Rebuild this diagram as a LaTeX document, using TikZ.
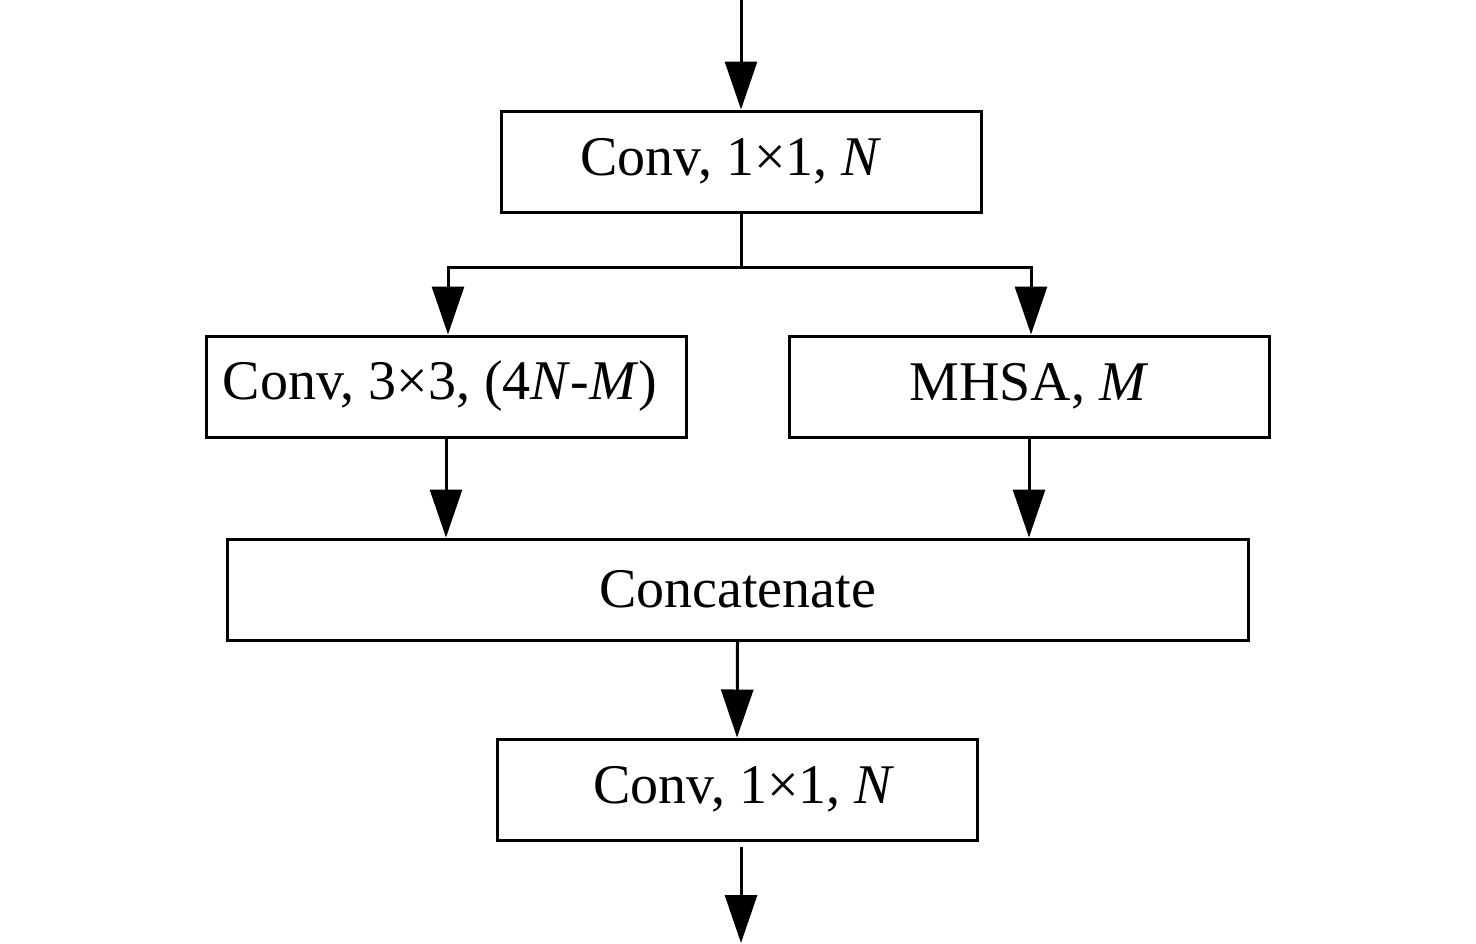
\documentclass[tikz,border=0pt]{standalone}
\usepackage{fontspec}
\setmainfont{Liberation Serif}
\usetikzlibrary{arrows.meta}
\begin{document}
\begin{tikzpicture}[x=0.5pt,y=-0.5pt,
  blk/.style={draw,line width=1.5pt,minimum width=240pt,minimum height=50.5pt,inner sep=0pt,font=\fontsize{28}{32}\selectfont},
  arr/.style={line width=1.5pt,-{Triangle[length=24pt,width=16pt]}},
  ln/.style={line width=1.5pt}]
\useasboundingbox (0,0) rectangle (1476,943);
\node[blk] (c1) at (741,161.5) {Conv, 1×1, \textit{N}\kern10pt};
\node[blk] (c3) at (446,386.5) {Conv, 3×3, (4\textit{N}-\textit{M})\kern6pt};
\node[blk] (mh) at (1029,386.5) {MHSA, \textit{M}};
\node[blk,minimum width=510.5pt] (cat) at (737.5,589.5) {Concatenate};
\node[blk] (c5) at (737,789.5) {\kern7pt Conv, 1×1, \textit{N}};
\coordinate (in) at (741,0);
\coordinate (out) at (741,943);
\coordinate (sp) at (741,267);
\draw[arr] (in) -- (c1.north);
\draw[ln] (c1.south) -- (sp);
\draw[arr] (sp) -| (c3.north -| 448,0);
\draw[arr] (sp) -| (mh.north -| 1031,0);
\draw[arr] (c3.south) -- (c3.south |- cat.north);
\draw[arr] (mh.south) -- (mh.south |- cat.north);
\draw[arr] (cat.south) -- (c5.north);
\draw[arr] (c5.south -| out) ++(0,5) -- (out);
\end{tikzpicture}
\end{document}
